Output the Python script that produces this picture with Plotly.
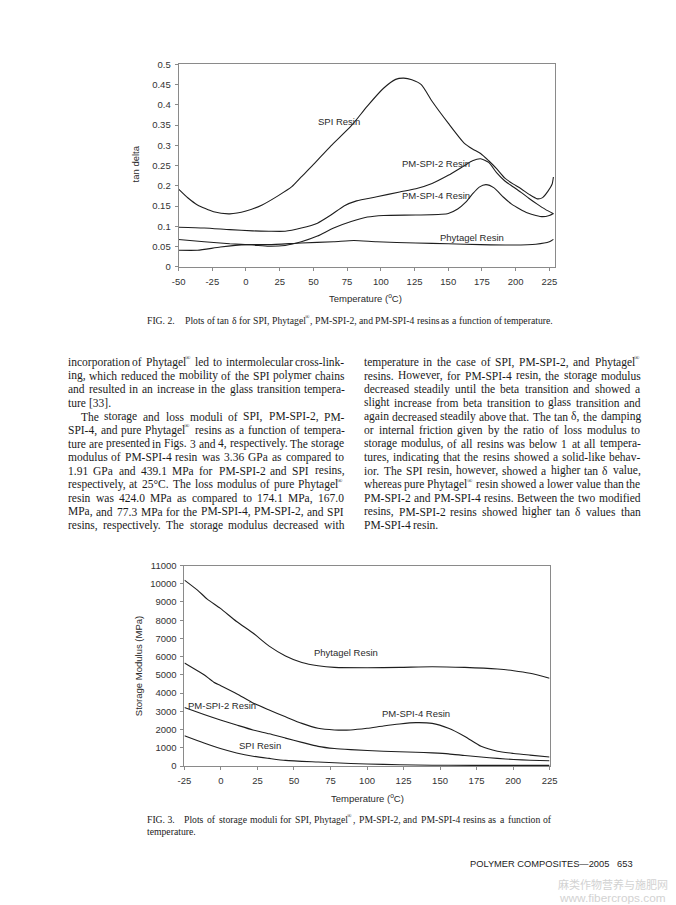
import plotly.graph_objects as go

# ---------------- DATA ----------------
# Fig. 2 : tan delta vs temperature
tan_spi_x = [-50, -43, -36, -24, -12, 0, 12, 24, 34, 41, 51, 63, 78, 90, 102, 111, 117, 123, 130, 138, 150, 162, 168, 174, 180, 186, 192, 198, 204, 210, 216, 220, 224, 227, 228]
tan_spi_y = [0.192, 0.170, 0.153, 0.136, 0.131, 0.138, 0.153, 0.176, 0.198, 0.222, 0.256, 0.299, 0.348, 0.397, 0.441, 0.463, 0.466, 0.462, 0.450, 0.409, 0.355, 0.305, 0.291, 0.280, 0.262, 0.242, 0.219, 0.205, 0.193, 0.179, 0.168, 0.171, 0.187, 0.204, 0.222]

tan_pm2_x = [-50, -31, -12, 5, 17, 29, 41, 53, 63, 73, 82, 97, 114, 126, 138, 150, 162, 168, 174, 180, 186, 192, 198, 204, 210, 216, 222, 228]
tan_pm2_y = [0.098, 0.096, 0.092, 0.089, 0.088, 0.088, 0.096, 0.108, 0.128, 0.151, 0.163, 0.173, 0.185, 0.193, 0.206, 0.226, 0.250, 0.262, 0.267, 0.258, 0.232, 0.212, 0.198, 0.184, 0.169, 0.155, 0.142, 0.131]

tan_pm4_x = [-50, -31, -12, 5, 17, 29, 41, 53, 65, 78, 90, 102, 126, 145, 150, 157, 163, 168, 173, 178, 184, 191, 197, 203, 209, 215, 220, 225, 228]
tan_pm4_y = [0.0675, 0.062, 0.057, 0.054, 0.051, 0.053, 0.062, 0.076, 0.096, 0.112, 0.123, 0.127, 0.128, 0.130, 0.132, 0.143, 0.160, 0.180, 0.197, 0.203, 0.195, 0.172, 0.155, 0.143, 0.133, 0.127, 0.124, 0.127, 0.132]

tan_phy_x = [-50, -36, -19, 0, 17, 41, 65, 80, 97, 126, 150, 174, 198, 215, 225, 228]
tan_phy_y = [0.041, 0.041, 0.049, 0.055, 0.055, 0.059, 0.062, 0.065, 0.062, 0.059, 0.057, 0.055, 0.054, 0.056, 0.062, 0.068]

tan_xticks = [-50, -25, 0, 25, 50, 75, 100, 125, 150, 175, 200, 225]
tan_xlabels = ["-50", "-25", "0", "25", "50", "75", "100", "125", "150", "175", "200", "225"]
tan_yticks = [0, 0.05, 0.1, 0.15, 0.2, 0.25, 0.3, 0.35, 0.4, 0.45, 0.5]
tan_ylabels = ["0", "0.05", "0.1", "0.15", "0.2", "0.25", "0.3", "0.35", "0.4", "0.45", "0.5"]

# Fig. 3 : storage modulus vs temperature
sm_phy_x = [-25, -16.1, -9.4, -0.4, 10.7, 21.9, 33, 44.2, 55.4, 66.5, 77.7, 100, 122.3, 144.6, 167, 189.3, 200.4, 211.6, 225]
sm_phy_y = [10200, 9650, 9160, 8650, 7930, 7300, 6580, 6040, 5680, 5500, 5410, 5390, 5410, 5450, 5410, 5320, 5230, 5090, 4820]

sm_pm4_x = [-25, -16.1, -11.6, -4.9, -0.4, 10.7, 21.9, 33, 44.2, 55.4, 66.5, 77.7, 88.8, 100, 111.2, 122.3, 133.5, 144.6, 155.8, 167, 178.1, 189.3, 200.4, 211.6, 225]
sm_pm4_y = [5650, 5230, 5010, 4600, 4420, 3970, 3460, 3070, 2700, 2340, 2070, 1980, 1980, 2070, 2200, 2310, 2380, 2340, 2070, 1620, 1080, 810, 690, 600, 500]

sm_pm2_x = [-25, -11.6, -0.4, 10.7, 21.9, 33, 44.2, 55.4, 66.5, 77.7, 88.8, 111.2, 133.5, 144.6, 155.8, 167, 178.1, 189.3, 200.4, 211.6, 225]
sm_pm2_y = [3210, 2830, 2530, 2250, 1980, 1770, 1530, 1300, 1080, 960, 900, 810, 760, 720, 670, 580, 500, 420, 360, 320, 290]

sm_spi_x = [-25, -11.6, -0.4, 10.7, 21.9, 33, 44.2, 66.5, 88.8, 111.2, 133.5, 155.8, 189.3, 225]
sm_spi_y = [1660, 1260, 960, 720, 540, 420, 310, 220, 140, 90, 55, 40, 35, 35]

sm_xticks = [-25, 0, 25, 50, 75, 100, 125, 150, 175, 200, 225]
sm_xlabels = ["-25", "0", "25", "50", "75", "100", "125", "150", "175", "200", "225"]
sm_yticks = [0, 1000, 2000, 3000, 4000, 5000, 6000, 7000, 8000, 9000, 10000, 11000]
sm_ylabels = ["0", "1000", "2000", "3000", "4000", "5000", "6000", "7000", "8000", "9000", "10000", "11000"]

series_names = ["SPI Resin", "PM-SPI-2 Resin", "PM-SPI-4 Resin", "Phytagel Resin"]

# Page text
left_col = [
    "incorporation of Phytagel® led to intermolecular cross-link-",
    "ing, which reduced the mobility of the SPI polymer chains",
    "and resulted in an increase in the glass transition tempera-",
    "ture [33].",
    "The storage and loss moduli of SPI, PM-SPI-2, PM-",
    "SPI-4, and pure Phytagel® resins as a function of tempera-",
    "ture are presented in Figs. 3 and 4, respectively. The storage",
    "modulus of PM-SPI-4 resin was 3.36 GPa as compared to",
    "1.91 GPa and 439.1 MPa for PM-SPI-2 and SPI resins,",
    "respectively, at 25°C. The loss modulus of pure Phytagel®",
    "resin was 424.0 MPa as compared to 174.1 MPa, 167.0",
    "MPa, and 77.3 MPa for the PM-SPI-4, PM-SPI-2, and SPI",
    "resins, respectively. The storage modulus decreased with",
]
right_col = [
    "temperature in the case of SPI, PM-SPI-2, and Phytagel®",
    "resins. However, for PM-SPI-4 resin, the storage modulus",
    "decreased steadily until the beta transition and showed a",
    "slight increase from beta transition to glass transition and",
    "again decreased steadily above that. The tan δ, the damping",
    "or internal friction given by the ratio of loss modulus to",
    "storage modulus, of all resins was below 1 at all tempera-",
    "tures, indicating that the resins showed a solid-like behav-",
    "ior. The SPI resin, however, showed a higher tan δ value,",
    "whereas pure Phytagel® resin showed a lower value than the",
    "PM-SPI-2 and PM-SPI-4 resins. Between the two modified",
    "resins, PM-SPI-2 resins showed higher tan δ values than",
    "PM-SPI-4 resin.",
]
left_ragged = {3}          # paragraph-ending lines (not justified)
left_indent = {4}          # paragraph-starting lines
right_ragged = {12}
cap2_label = "FIG. 2."
cap2_body = "Plots of tan δ for SPI, Phytagel®, PM-SPI-2, and PM-SPI-4 resins as a function of temperature."
cap3_label = "FIG. 3."
cap3_body = ["Plots of storage moduli for SPI, Phytagel®, PM-SPI-2, and PM-SPI-4 resins as a function of",
             "temperature."]
footer = "POLYMER COMPOSITES—2005\u00a0\u00a0\u00a0653"
watermark = ["麻类作物营养与施肥网", "www.fibercrops.com"]

# ---------------- FIGURE ----------------
W, H = 676, 905
SANS = "Liberation Sans, Arial, sans-serif"
SERIF = "Liberation Serif, Times New Roman, serif"
LINE = dict(color="#1e1e1e", width=1.1, shape="spline", smoothing=0.6)

# Times / Liberation Serif advance widths (1/1000 em), used to set out justified lines
TW = {" ": 250, ",": 250, ".": 250, "-": 333, "[": 333, "]": 333, "(": 333, ")": 333, ":": 278, ";": 278,
      "°": 400, "®": 532, "δ": 500, "—": 1000}
TW.update({d: 500 for d in "0123456789"})
TW.update(dict(zip("ABCDEFGHIJKLMNOPQRSTUVWXYZ",
                   [722, 667, 667, 722, 611, 556, 722, 722, 333, 389, 722, 611, 889, 722, 722, 556, 722, 667, 556, 611, 722, 722, 944, 722, 722, 611])))
TW.update(dict(zip("abcdefghijklmnopqrstuvwxyz",
                   [444, 500, 444, 500, 444, 333, 500, 500, 278, 278, 500, 278, 778, 500, 500, 500, 500, 333, 389, 278, 500, 500, 722, 500, 500, 444])))
SPACE_EM = 0.29   # natural word gap for ragged lines


def tw(s, size):
    return sum(TW.get(c, 500) for c in s) * size / 1000.0


def px(x):
    return x / W


def py(y):
    return 1 - y / H


fig = go.Figure()
tan_sets = [(tan_spi_x, tan_spi_y), (tan_pm2_x, tan_pm2_y), (tan_pm4_x, tan_pm4_y), (tan_phy_x, tan_phy_y)]
for name, (xs, ys) in zip(series_names, tan_sets):
    fig.add_trace(go.Scatter(x=xs, y=ys, mode="lines", name=name, line=LINE, xaxis="x", yaxis="y"))
sm_sets = [(sm_spi_x, sm_spi_y), (sm_pm2_x, sm_pm2_y), (sm_pm4_x, sm_pm4_y), (sm_phy_x, sm_phy_y)]
for name, (xs, ys) in zip(series_names, sm_sets):
    fig.add_trace(go.Scatter(x=xs, y=ys, mode="lines", name=name, line=LINE, xaxis="x2", yaxis="y2"))

axis_common = dict(showline=True, linecolor="#8a8a8a", linewidth=1, mirror=True,
                   ticks="outside", ticklen=3, tickcolor="#8a8a8a", tickwidth=1,
                   showgrid=False, zeroline=False, fixedrange=True,
                   tickfont=dict(family=SANS, size=9.5, color="#333333"))

fig.update_layout(
    width=W, height=H, margin=dict(l=0, r=0, t=0, b=0),
    paper_bgcolor="white", plot_bgcolor="white", showlegend=False,
    xaxis=dict(domain=[px(167.3), px(552)], range=[-50, 229], tickvals=tan_xticks, ticktext=tan_xlabels,
               anchor="y", ticklabelstandoff=3, **axis_common),
    yaxis=dict(domain=[py(256), py(51)], range=[0, 0.5], tickvals=tan_yticks, ticktext=tan_ylabels,
               anchor="x", ticklabelstandoff=2, **axis_common),
    xaxis2=dict(domain=[px(173.3), px(546.7)], range=[-25, 225], tickvals=sm_xticks, ticktext=sm_xlabels,
                anchor="y2", ticklabelstandoff=3, **axis_common),
    yaxis2=dict(domain=[py(761.3), py(558.3)], range=[0, 11000], tickvals=sm_yticks, ticktext=sm_ylabels,
                anchor="x2", ticklabelstandoff=2, **axis_common),
)

ann = []
chart_font = dict(family=SANS, size=9.5, color="#2a2a2a")


def text_at(t, x, y, font, xanchor="left", **kw):
    ann.append(dict(text=t, x=px(x), y=py(y), xref="paper", yref="paper", xanchor=xanchor,
                    yanchor="middle", showarrow=False, font=font, **kw))


def run_at(t, x, y, size, font):
    """Place a word; a ® in it is drawn as a small raised mark so the baseline stays put."""
    parts = t.split("®")
    for k, part in enumerate(parts):
        if part:
            text_at(part, x, y, font)
            x += tw(part, size)
        if k < len(parts) - 1:
            small = dict(font, size=size * 0.62)
            text_at("®", x - 0.3, y - size * 0.33, small)
            x += tw("®", size)


# axis titles
text_at("tan delta", 123, 152, chart_font, xanchor="center", textangle=-90)
text_at("Temperature (<sup>o</sup>C)", 358, 288, chart_font, xanchor="center")
text_at("Storage Modulus (MPa)", 127, 660, chart_font, xanchor="center", textangle=-90)
text_at("Temperature (<sup>o</sup>C)", 360, 794, chart_font, xanchor="center")

# curve labels (data coordinates)
tan_label_pos = [(69.1, 0.3585), (141.2, 0.256), (141.2, 0.1756), (167.7, 0.0715)]
for name, (lx, ly) in zip(series_names, tan_label_pos):
    ann.append(dict(text=name, x=lx, y=ly, xref="x", yref="y", showarrow=False, font=chart_font))
sm_label_pos = [(26.8, 1100), (0.7, 3305), (133.5, 2872), (85.3, 6248)]
for name, (lx, ly) in zip(series_names, sm_label_pos):
    ann.append(dict(text=name, x=lx, y=ly, xref="x2", yref="y2", showarrow=False, font=chart_font))


def set_line(line, x0, y, size, font, width=None):
    words = line.split(" ")
    ws = [tw(w, size) for w in words]
    if width is None or len(words) < 2:
        gap = SPACE_EM * size
    else:
        gap = (width - sum(ws)) / (len(words) - 1)
    x = x0
    for w, wd in zip(words, ws):
        run_at(w, x, y, size, font)
        x += wd + gap


# captions
cap_gap = 11
n_sp = cap2_body.count(" ")
cap_size = (414 - cap_gap) / (tw(cap2_label, 1) + tw(cap2_body.replace(" ", ""), 1) + SPACE_EM * n_sp)
cap_font = dict(family=SERIF, size=cap_size, color="#222222")
text_at(cap2_label, 133, 310, cap_font)
set_line(cap2_body, 133 + tw(cap2_label, cap_size) + cap_gap, 310, cap_size, cap_font)
text_at(cap3_label, 132.5, 815.5, cap_font)
c3x = 132.5 + tw(cap3_label, cap_size) + cap_gap
set_line(cap3_body[0], c3x, 815.5, cap_size, cap_font, width=546 - c3x)
text_at(cap3_body[1], 132.5, 828, cap_font)

# body text, two justified columns
BODY = 11.5
body_font = dict(family=SERIF, size=BODY, color="#1a1a1a")
y0, dy = 352.5, 13.75
col_w = 282
for col, x0, ragged, indents in [(left_col, 52, left_ragged, left_indent),
                                 (right_col, 355, right_ragged, set())]:
    for i, t in enumerate(col):
        yy = y0 + dy * i
        ind = 13 if i in indents else 0
        set_line(t, x0 + ind, yy, BODY, body_font, width=None if i in ragged else col_w - ind)

# footer & watermark
text_at(footer, 463, 860, dict(family=SANS, size=9.3, color="#222222"))
text_at(watermark[0], 670, 881, dict(family="Noto Sans CJK SC", size=11, color="#d2d2d2"), xanchor="right")
text_at(watermark[1], 668, 895, dict(family=SANS, size=11.8, color="#d2d2d2"), xanchor="right")

fig.update_layout(annotations=ann)
fig.write_html("out.html")
